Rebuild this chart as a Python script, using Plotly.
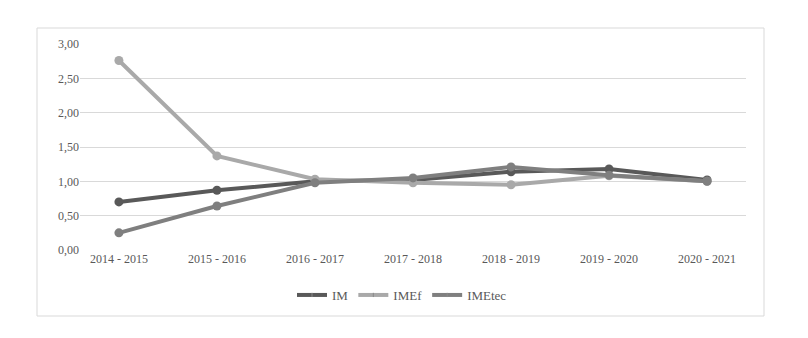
import plotly.graph_objects as go

categories = ["2014 - 2015", "2015 - 2016", "2016 - 2017", "2017 - 2018",
              "2018 - 2019", "2019 - 2020", "2020 - 2021"]
im = [0.70, 0.87, 1.00, 1.02, 1.14, 1.18, 1.02]
imef = [2.76, 1.37, 1.03, 0.98, 0.95, 1.08, 1.00]
imetec = [0.25, 0.64, 0.98, 1.05, 1.21, 1.09, 1.00]

series = [("IM", im, "#595959"), ("IMEf", imef, "#A9A9A9"), ("IMEtec", imetec, "#7F7F7F")]

FONT = "Times New Roman"

fig = go.Figure()
for name, vals, color in series:
    fig.add_trace(go.Scatter(
        x=categories, y=vals, name=name, mode="lines+markers",
        line=dict(color=color, width=4),
        marker=dict(color=color, size=9),
        showlegend=False,
    ))
for name, vals, color in series:
    fig.add_trace(go.Scatter(
        x=[categories[0]], y=[None], name=name, mode="lines+markers",
        line=dict(color=color, width=4),
        marker=dict(color=color, size=3, symbol="line-ns", line=dict(color="#8a8a8a", width=1)),
        showlegend=True,
    ))

# page body has an 8px margin, so the figure starts at pixel 8
OFF = 8
W, H = 808 - OFF, 338 - OFF
L, R, T, B = 80 - OFF, 808 - 746, 44 - OFF, 338 - 250
pw, ph = W - L - R, H - T - B

def px_to_paper_x(px):
    return (px - OFF - L) / pw

def px_to_paper_y(py):
    return (H + OFF - B - py) / ph

fig.add_shape(type="rect", xref="paper", yref="paper",
              x0=px_to_paper_x(37), x1=px_to_paper_x(764),
              y0=px_to_paper_y(316), y1=px_to_paper_y(28),
              line=dict(color="#D9D9D9", width=1), fillcolor="rgba(0,0,0,0)", layer="below")

fig.update_layout(
    width=W, height=H,
    margin=dict(l=L, r=R, t=T, b=B),
    paper_bgcolor="white", plot_bgcolor="white",
    separators=",.",
    font=dict(family=FONT, size=12, color="#595959"),
    xaxis=dict(showgrid=False, showline=False, zeroline=False, ticks="",
               tickfont=dict(family=FONT, size=12, color="#595959")),
    yaxis=dict(range=[0, 3], dtick=0.5, tickformat=".2f", showgrid=True,
               gridcolor="#D9D9D9", gridwidth=1, zeroline=False, showline=False,
               ticks="", tickfont=dict(family=FONT, size=12, color="#595959")),
    legend=dict(orientation="h", x=px_to_paper_x(402), xanchor="center",
                y=px_to_paper_y(295), yanchor="middle",
                font=dict(family=FONT, size=13, color="#595959"), itemwidth=30,
                bgcolor="rgba(0,0,0,0)"),
    showlegend=True,
)

fig.write_html("out.html")
